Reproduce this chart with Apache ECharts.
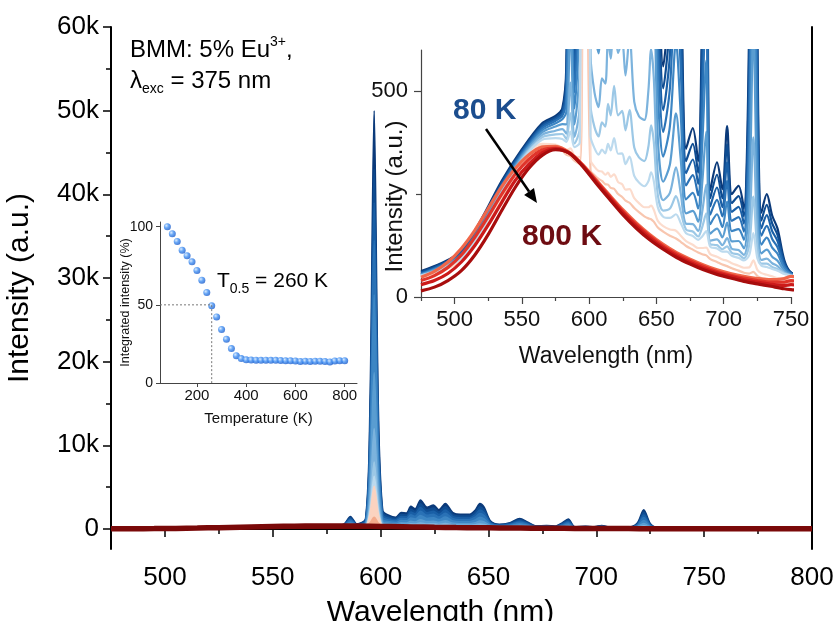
<!DOCTYPE html>
<html><head><meta charset="utf-8">
<script src="https://cdn.jsdelivr.net/npm/echarts@6/dist/echarts.min.js"></script>
<style>html,body{margin:0;padding:0;background:#fff}#c{width:836px;height:621px}</style>
</head><body><div id="c"></div>
<script>
// ---------------- DATA ----------------
const wavelengths = [475, 490, 505, 520, 535, 550, 565, 575, 580, 583,
 586, 589, 593, 595, 597, 599, 601, 604, 607, 609.5,
 612, 614, 616, 618.5, 621.5, 624.5, 627, 630, 633.5, 637,
 641, 644, 646, 648, 651, 655, 660, 664.5, 668, 672,
 677, 681, 684, 687, 690, 695, 699, 702.5, 706, 711,
 715, 719, 722, 725, 728, 732, 736, 740, 745, 750,
 765, 785, 800];

const int080K = [63, 82, 112, 190, 282, 359, 422, 440, 458, 560,
 1500, 600, 1200, 14000, 50000, 14000, 2200, 1600, 1400, 1950,
 1900, 2700, 2400, 3450, 2600, 2850, 2300, 3050, 1950, 1750,
 1750, 2300, 3050, 2600, 950, 560, 750, 1250, 850, 360,
 410, 330, 700, 1200, 260, 327, 262, 415, 250, 270,
 214, 700, 2300, 650, 205, 250, 198, 166, 90, 60,
 40, 30, 25];
const int120K = [60, 80, 110, 186, 278, 355, 418, 436, 452, 533,
 1341, 566, 1080, 12090, 43000, 12090, 1938, 1420, 1247, 1719,
 1675, 2362, 2103, 3006, 2273, 2487, 2013, 2657, 1710, 1537,
 1535, 2007, 2651, 2264, 844, 507, 669, 1098, 753, 330,
 372, 302, 620, 1049, 240, 297, 240, 371, 228, 245,
 196, 613, 1989, 569, 186, 224, 179, 151, 85, 59,
 40, 30, 25];
const int160K = [58, 78, 107, 182, 274, 352, 414, 432, 446, 507,
 1181, 531, 961, 10995, 39000, 10992, 1675, 1240, 1094, 1488,
 1450, 2025, 1807, 2561, 1946, 2124, 1726, 2264, 1470, 1323,
 1320, 1714, 2253, 1927, 737, 454, 588, 946, 656, 301,
 334, 275, 540, 898, 220, 266, 218, 327, 207, 219,
 178, 526, 1678, 489, 167, 199, 160, 136, 80, 58,
 40, 30, 25];
const int200K = [56, 76, 104, 178, 270, 348, 410, 428, 440, 480,
 1022, 497, 841, 9765, 34500, 9762, 1413, 1061, 941, 1257,
 1225, 1687, 1510, 2117, 1620, 1761, 1439, 1871, 1229, 1110,
 1105, 1421, 1854, 1591, 631, 401, 507, 793, 559, 271,
 296, 247, 459, 747, 200, 236, 196, 282, 185, 194,
 159, 440, 1366, 408, 149, 173, 141, 121, 75, 57,
 40, 30, 24];
const int240K = [55, 74, 102, 175, 266, 345, 405, 422, 432, 450,
 840, 458, 704, 7990, 28000, 7985, 1113, 855, 767, 993,
 968, 1301, 1172, 1609, 1246, 1347, 1112, 1422, 955, 866,
 860, 1087, 1399, 1207, 510, 341, 415, 620, 447, 237,
 253, 215, 368, 575, 177, 201, 170, 232, 160, 165,
 139, 340, 1011, 316, 127, 144, 120, 105, 70, 55,
 40, 30, 24];
const int280K = [54, 72, 100, 172, 262, 342, 400, 414, 420, 419,
 658, 419, 567, 5449, 18700, 5443, 813, 650, 592, 729,
 711, 915, 833, 1101, 873, 932, 784, 973, 680, 622,
 614, 752, 943, 823, 388, 280, 322, 446, 336, 203,
 209, 183, 276, 402, 154, 166, 145, 181, 135, 136,
 118, 241, 655, 224, 106, 115, 98, 88, 64, 54,
 40, 30, 24];
const int320K = [53, 70, 98, 168, 258, 338, 394, 404, 408, 397,
 521, 389, 465, 3618, 12000, 3611, 588, 496, 461, 531,
 518, 626, 579, 720, 593, 621, 538, 636, 474, 439,
 430, 501, 602, 534, 297, 235, 253, 315, 253, 178,
 177, 160, 207, 273, 137, 140, 126, 143, 117, 114,
 102, 167, 388, 155, 90, 93, 82, 75, 60, 53,
 40, 30, 24];
const int360K = [52, 68, 96, 165, 255, 335, 388, 395, 396, 384,
 447, 373, 409, 2526, 8000, 2517, 466, 412, 390, 424,
 414, 469, 441, 513, 441, 452, 405, 454, 363, 339,
 330, 365, 417, 378, 248, 210, 215, 245, 208, 164,
 159, 147, 170, 203, 128, 126, 116, 123, 107, 103,
 94, 127, 244, 117, 81, 81, 73, 68, 58, 52,
 40, 30, 24];
const int380K = [52, 67, 94, 162, 252, 332, 382, 386, 384, 377,
 402, 364, 375, 2061, 6300, 2052, 391, 361, 346, 358,
 349, 372, 356, 386, 348, 349, 323, 341, 294, 278,
 269, 281, 303, 282, 218, 195, 192, 201, 180, 155,
 148, 139, 147, 160, 122, 118, 110, 110, 100, 95,
 89, 102, 155, 94, 76, 73, 68, 64, 56, 52,
 40, 30, 24];
const int420K = [50, 64, 90, 155, 245, 326, 372, 370, 362, 357,
 361, 343, 340, 1718, 5100, 1708, 332, 316, 306, 305,
 297, 302, 292, 298, 279, 274, 261, 262, 240, 228,
 218, 218, 222, 212, 185, 172, 164, 161, 149, 136,
 127, 119, 119, 120, 104, 98, 91, 88, 82, 76,
 71, 72, 89, 66, 58, 54, 50, 46, 42, 40,
 33, 26, 22];
const int460K = [49, 63, 88, 150, 240, 322, 368, 366, 356, 346,
 342, 331, 323, 697, 1400, 687, 308, 296, 287, 282,
 274, 273, 265, 263, 250, 243, 234, 229, 216, 206,
 196, 191, 189, 183, 169, 159, 149, 142, 134, 124,
 115, 108, 104, 101, 92, 85, 79, 75, 70, 64,
 59, 57, 61, 51, 46, 43, 40, 38, 36, 36,
 32, 28, 25];

const wavelengthsBroad = [475, 485, 495, 505, 515, 525, 535, 545, 555, 565,
 575, 585, 595, 605, 615, 625, 635, 645, 655, 665,
 675, 685, 695, 705, 715, 725, 735, 745, 750, 760,
 775, 790, 800];
const int500K = [48, 62, 85, 118, 162, 215, 268, 312, 345, 364, 366, 352, 322, 285, 248, 212, 180, 152, 128, 108, 92, 78, 66, 57, 50, 45, 42, 45, 50, 45, 40, 35, 32];
const int600K = [40, 52, 72, 102, 145, 196, 250, 298, 334, 357, 362, 350, 320, 283, 245, 208, 176, 148, 124, 104, 88, 74, 62, 53, 46, 40, 36, 36, 40, 35, 30, 26, 24];
const int700K = [30, 40, 57, 85, 125, 175, 230, 283, 322, 350, 360, 350, 320, 280, 242, 205, 172, 144, 120, 100, 84, 70, 59, 50, 42, 36, 31, 28, 30, 26, 22, 19, 17];
const int800K = [15, 24, 40, 64, 102, 152, 210, 266, 312, 344, 358, 350, 318, 277, 238, 200, 167, 139, 116, 96, 80, 66, 55, 46, 38, 32, 26, 20, 18, 15, 12, 10, 8];

const temperatures = [80, 100, 120, 140, 160, 180, 200, 220, 240, 260, 280, 300, 320, 340, 360, 380, 400, 420, 440, 460, 480, 500, 520, 540, 560, 580, 600, 620, 640, 660, 680, 700, 720, 740, 760, 780, 800];
const integratedIntensity = [100, 95.5, 90.6, 85, 81.4, 77.5, 72, 65.8, 57.9, 49.4, 42.3, 34.2, 28, 22, 17.5, 15.6, 14.8, 14.7, 14.6, 14.5, 14.6, 14.5, 14.5, 14.4, 14.3, 14.2, 14.1, 13.8, 13.9, 13.8, 13.9, 13.9, 13.8, 13.5, 14.1, 14.3, 14.3];
const halfLevel = 50, t05 = 260;

const mainXTicks = [500, 550, 600, 650, 700, 750, 800];
const mainXMinor = [525, 575, 625, 675, 725, 775];
const mainYTicks = [0, 10000, 20000, 30000, 40000, 50000, 60000];
const mainYMinor = [5000, 15000, 25000, 35000, 45000, 55000];
const inset1XTicks = [200, 400, 600, 800];
const inset1YTicks = [0, 50, 100];
const inset2XTicks = [500, 550, 600, 650, 700, 750];
const inset2XMinor = [475, 525, 575, 625, 675, 725];
const inset2YTicks = [0, 500];
const inset2YMinor = [250];

// ---------------- STYLE ----------------
const FONT = 'Liberation Sans, Arial, sans-serif';
const fine = [
  {v: int080K, c: '#0b3a7a'}, {v: int120K, c: '#0f4d92'}, {v: int160K, c: '#1a5fa6'},
  {v: int200K, c: '#2a72b6'}, {v: int240K, c: '#3d86c4'}, {v: int280K, c: '#5a9dd1'},
  {v: int320K, c: '#7cb3dd'}, {v: int360K, c: '#9cc8e6'}, {v: int380K, c: '#bcdaee'}
];
const pink = {v: int420K, c: '#fcdccd', cm: '#fbd3c0'};
const salmon = {v: int460K, c: '#f8c6af', cm: '#f4ab8c'};
const reds = [
  {v: int500K, c: '#f0674a', cm: '#e0523c'}, {v: int600K, c: '#e0352a', cm: '#c42a22'},
  {v: int700K, c: '#cc1a1a', cm: '#a51414'}, {v: int800K, c: '#a80d0d', cm: '#7a0909'}
];
const pairs = (xs, ys) => ys.map((y, i) => [xs[i], y]);

const series = [];
// main plot
fine.forEach(s => series.push({
  type: 'line', xAxisIndex: 0, yAxisIndex: 0, data: pairs(wavelengths, s.v), symbol: 'none',
  smooth: 0.3, clip: true, silent: true,
  lineStyle: {color: s.c, width: 1.5}, areaStyle: {color: s.c, opacity: 1}
}));
[pink, salmon].forEach(s => series.push({
  type: 'line', xAxisIndex: 0, yAxisIndex: 0, data: pairs(wavelengths, s.v), symbol: 'none',
  smooth: 0.3, clip: true, silent: true,
  lineStyle: {color: s.cm, width: 1.5}, areaStyle: {color: s.cm, opacity: 1}
}));
reds.forEach((s, i) => series.push({
  type: 'line', xAxisIndex: 0, yAxisIndex: 0, data: pairs(wavelengthsBroad, s.v), symbol: 'none',
  smooth: 0.3, clip: true, silent: true,
  lineStyle: {color: s.cm, width: i === 3 ? 5.5 : 3}, areaStyle: {color: s.cm, opacity: 1}
}));
// inset 2 (zoomed spectra)
[salmon, pink].concat(fine).forEach(s => series.push({
  type: 'line', xAxisIndex: 4, yAxisIndex: 4, data: pairs(wavelengths, s.v), symbol: 'none',
  smooth: 0.3, clip: true, silent: true, lineStyle: {color: s.c, width: 2.2}
}));
reds.forEach(s => series.push({
  type: 'line', xAxisIndex: 4, yAxisIndex: 4, data: pairs(wavelengthsBroad, s.v), symbol: 'none',
  smooth: 0.3, clip: true, silent: true, lineStyle: {color: s.c, width: 3.2}
}));
// inset 1 (integrated intensity)
series.push({
  type: 'line', xAxisIndex: 3, yAxisIndex: 3, symbol: 'none', silent: true,
  data: [[50, halfLevel], [t05, halfLevel], [t05, 0]],
  lineStyle: {color: '#777', width: 1, type: [2, 2]}
});
series.push({
  type: 'scatter', xAxisIndex: 3, yAxisIndex: 3, symbolSize: 7, silent: true,
  data: pairs(temperatures, integratedIntensity),
  itemStyle: {color: {type: 'radial', x: 0.35, y: 0.35, r: 0.75,
    colorStops: [{offset: 0, color: '#cfe6ff'}, {offset: 0.45, color: '#3f8ef2'}, {offset: 1, color: '#1554c4'}]}}
});

const black = '#000', grey = '#444';
const hide = {show: false};
function valAxis(o) { return Object.assign({type: 'value', splitLine: hide, nameMoveOverlap: false}, o); }

const xAxis = [
  valAxis({gridIndex: 0, min: 475, max: 800, position: 'bottom',
    axisLine: {lineStyle: {color: black, width: 2}},
    axisTick: {customValues: mainXTicks, length: 8, lineStyle: {color: black, width: 1.5}},
    axisLabel: {customValues: mainXTicks, fontSize: 26, color: black, fontFamily: FONT, margin: 16},
    name: 'Wavelength (nm)', nameLocation: 'middle', nameGap: 49,
    nameTextStyle: {fontSize: 30, color: black, fontFamily: FONT, padding: [0, 42, 0, 0]}}),
  valAxis({gridIndex: 0, min: 475, max: 800, position: 'bottom', axisLine: hide,
    axisTick: {customValues: mainXMinor, length: 5, lineStyle: {color: black, width: 1.5}}, axisLabel: hide}),
  valAxis({gridIndex: 0, min: 475, max: 800, position: 'top',
    axisLine: {lineStyle: {color: black, width: 2}}, axisTick: hide, axisLabel: hide}),
  valAxis({gridIndex: 1, min: 50, max: 850, position: 'bottom',
    axisLine: {lineStyle: {color: grey, width: 1}},
    axisTick: {customValues: inset1XTicks, length: 4, lineStyle: {color: grey}},
    axisLabel: {customValues: inset1XTicks, fontSize: 15, color: '#111', fontFamily: FONT, margin: 5},
    name: 'Temperature (K)', nameLocation: 'middle', nameGap: 28,
    nameTextStyle: {fontSize: 15, color: '#111', fontFamily: FONT}}),
  valAxis({gridIndex: 2, min: 475, max: 750, position: 'bottom',
    axisLine: {lineStyle: {color: grey, width: 1.2}},
    axisTick: {customValues: inset2XTicks, length: 7, lineStyle: {color: grey, width: 1.2}},
    axisLabel: {customValues: inset2XTicks, fontSize: 22, color: '#111', fontFamily: FONT, margin: 12},
    name: 'Wavelength (nm)', nameLocation: 'middle', nameGap: 48,
    nameTextStyle: {fontSize: 23, color: '#111', fontFamily: FONT}}),
  valAxis({gridIndex: 2, min: 475, max: 750, position: 'bottom', axisLine: hide,
    axisTick: {customValues: inset2XMinor, length: 4, lineStyle: {color: grey, width: 1.2}}, axisLabel: hide})
];
const yAxis = [
  valAxis({gridIndex: 0, min: -2400, max: 60000, position: 'left',
    axisLine: {lineStyle: {color: black, width: 2}},
    axisTick: {customValues: mainYTicks, length: 8, lineStyle: {color: black, width: 1.5}},
    axisLabel: {customValues: mainYTicks, fontSize: 26, color: black, fontFamily: FONT, margin: 12,
      formatter: v => v === 0 ? '0' : (v / 1000) + 'k'},
    name: 'Intensity (a.u.)', nameLocation: 'middle', nameGap: 76,
    nameTextStyle: {fontSize: 30, color: black, fontFamily: FONT}}),
  valAxis({gridIndex: 0, min: -2400, max: 60000, position: 'left', axisLine: hide,
    axisTick: {customValues: mainYMinor, length: 5, lineStyle: {color: black, width: 1.5}}, axisLabel: hide}),
  valAxis({gridIndex: 0, min: -2400, max: 60000, position: 'right',
    axisLine: {lineStyle: {color: black, width: 2}}, axisTick: hide, axisLabel: hide}),
  valAxis({gridIndex: 1, min: 0, max: 103, position: 'left',
    axisLine: {lineStyle: {color: grey, width: 1}},
    axisTick: {customValues: inset1YTicks, length: 4, lineStyle: {color: grey}},
    axisLabel: {customValues: inset1YTicks, fontSize: 14, color: '#111', fontFamily: FONT, margin: 7},
    name: 'Integrated intensity (%)', nameLocation: 'middle', nameGap: 28,
    nameTextStyle: {fontSize: 12.5, color: '#111', fontFamily: FONT}}),
  valAxis({gridIndex: 2, min: 0, max: 600, position: 'left',
    axisLine: {lineStyle: {color: grey, width: 1.2}},
    axisTick: {customValues: inset2YTicks, length: 7, lineStyle: {color: grey, width: 1.2}},
    axisLabel: {customValues: inset2YTicks, fontSize: 22, color: '#111', fontFamily: FONT, margin: 13},
    name: 'Intensity (a.u.)', nameLocation: 'middle', nameGap: 14,
    nameTextStyle: {fontSize: 24, color: '#111', fontFamily: FONT, padding: [0, 46, 0, 0]}}),
  valAxis({gridIndex: 2, min: 0, max: 600, position: 'left', axisLine: hide,
    axisTick: {customValues: inset2YMinor, length: 5, lineStyle: {color: grey, width: 1.2}}, axisLabel: hide})
];

// arrow geometry (annotation)
const arrowFrom = [486, 129], arrowTo = [537, 203];
const adx = arrowTo[0] - arrowFrom[0], ady = arrowTo[1] - arrowFrom[1];
const alen = Math.hypot(adx, ady), ux = adx / alen, uy = ady / alen;
const headL = 14, headW = 6;
const bx = arrowTo[0] - ux * headL, by = arrowTo[1] - uy * headL;

const graphic = [
  {type: 'text', left: 130, top: 35, z: 100, style: {
    text: '{n|BMM: 5% Eu}{s|3+}{n|,}', fontFamily: FONT,
    rich: {n: {fontSize: 24, lineHeight: 30, verticalAlign: 'middle', fill: '#000', fontFamily: FONT},
           s: {fontSize: 14, lineHeight: 30, verticalAlign: 'top', fill: '#000', fontFamily: FONT}}}},
  {type: 'text', left: 130, top: 69, z: 100, style: {
    text: '{n|λ}{b|exc}{n| = 375 nm}', fontFamily: FONT,
    rich: {n: {fontSize: 24, lineHeight: 30, verticalAlign: 'middle', fill: '#000', fontFamily: FONT},
           b: {fontSize: 14, lineHeight: 30, verticalAlign: 'bottom', fill: '#000', fontFamily: FONT}}}},
  {type: 'text', left: 217, top: 271, z: 100, style: {
    text: '{n|T}{b|0.5}{n| = 260 K}', fontFamily: FONT,
    rich: {n: {fontSize: 21, lineHeight: 30, verticalAlign: 'middle', fill: '#000', fontFamily: FONT},
           b: {fontSize: 14, lineHeight: 30, verticalAlign: 'bottom', fill: '#000', fontFamily: FONT}}}},
  {type: 'text', left: 453, top: 96, z: 100, style: {
    text: '80 K', fontSize: 30, fontWeight: 'bold', fill: '#1b4d8e', fontFamily: FONT}},
  {type: 'text', left: 522, top: 222, z: 100, style: {
    text: '800 K', fontSize: 30, fontWeight: 'bold', fill: '#6e0c12', fontFamily: FONT}},
  {type: 'line', z: 100, shape: {x1: arrowFrom[0], y1: arrowFrom[1], x2: bx, y2: by},
    style: {stroke: '#000', lineWidth: 2.5}},
  {type: 'polygon', z: 100, shape: {points: [arrowTo,
    [bx - uy * headW, by + ux * headW], [bx + uy * headW, by - ux * headW]]},
    style: {fill: '#000'}}
];

const chart = echarts.init(document.getElementById('c'), null, {renderer: 'canvas'});
chart.setOption({
  animation: false,
  backgroundColor: '#fff',
  textStyle: {fontFamily: FONT},
  grid: [
    {left: 111, top: 27, width: 701, height: 522, containLabel: false, outerBoundsMode: 'none'},
    {left: 160, top: 222, width: 197, height: 161, containLabel: false, outerBoundsMode: 'none'},
    {left: 421, top: 50, width: 370, height: 247, containLabel: false, outerBoundsMode: 'none'}
  ],
  xAxis, yAxis, series, graphic
});
</script></body></html>
